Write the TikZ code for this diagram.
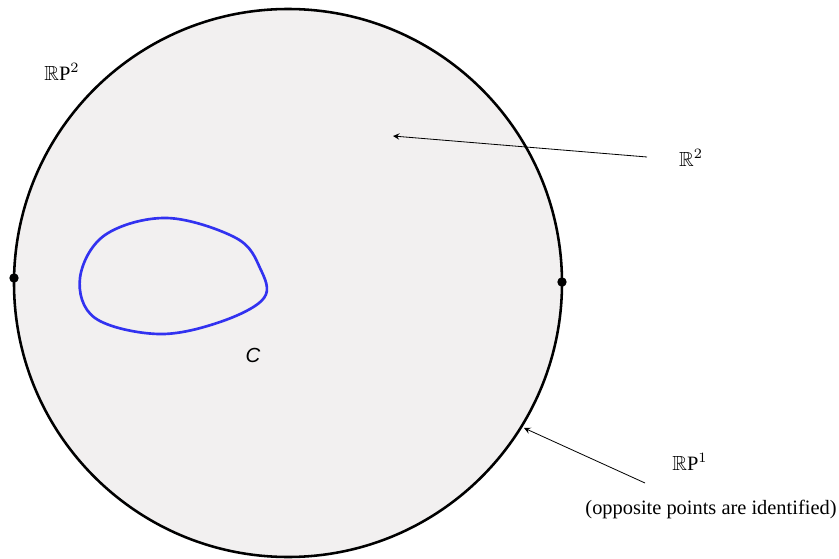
\documentclass[tikz,border=0pt]{standalone}
\usepackage{amssymb}
\usepackage{fontspec}
\setmainfont{Liberation Serif}
\newfontfamily\csans{Liberation Sans}
\definecolor{diskfill}{RGB}{242,240,240}
\definecolor{curveblue}{RGB}{50,50,240}
\begin{document}
\begin{tikzpicture}[x=0.49pt,y=-0.49pt,
  lbl/.style={inner sep=0pt, font=\fontsize{10}{12}\selectfont},
  ptr/.style={-stealth, line width=0.4pt},
  dotmark/.style={circle, fill=black, inner sep=0pt, minimum size=4.6pt}]
\useasboundingbox (0,0) rectangle (839,559);
\coordinate (ctr) at (288,283);
\draw[fill=diskfill, line width=1.25pt] (ctr) circle[radius=274];
\node[dotmark] (pl) at (14,278) {};
\node[dotmark] (pr) at (562,282) {};
\draw[curveblue, line width=1.3pt] plot[smooth cycle, tension=0.6] coordinates {
  (167,218) (236,238) (260,268) (264,298) (220,322) (158,334) (95,318) (80,278) (105,235)};
\node[lbl] (rp2) at (62,72) {$\mathbb{R}\mathrm{P}^2$};
\node[lbl] (r2) at (691,158) {$\mathbb{R}^2$};
\node[lbl] (rp1) at (690,462) {$\mathbb{R}\mathrm{P}^1$};
\node[lbl, anchor=north] (rp1note) at (711,500) {(opposite points are identified)};
\node[lbl] (cc) at (253,355) {\csans\itshape C};
\coordinate (r2tip) at (393,136);
\coordinate (rp1tip) at (524,428);
\coordinate (r2tail) at (647,157);
\coordinate (rp1tail) at (645,483);
\draw[ptr] (r2tail) -- (r2tip);
\draw[ptr] (rp1tail) -- (rp1tip);
\end{tikzpicture}
\end{document}
